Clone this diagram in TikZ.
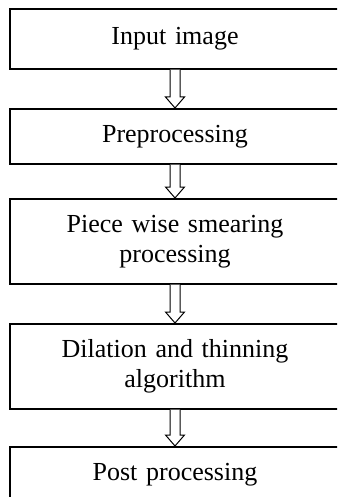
\documentclass[tikz,border=0pt]{standalone}
\usepackage{fontspec}
\setmainfont{Liberation Serif}
\usetikzlibrary{calc}
\tikzset{
  stepbox/.style={draw=black, line width=1.6pt, rectangle, anchor=north,
    minimum width=330pt, text width=300pt, align=center, inner sep=0pt,
    font=\fontsize{26}{30}\selectfont},
  blockarrow/.style={draw=black, line width=1pt, fill=white, line join=miter}
}
\newcommand{\hollowarrow}[2]{%
  \draw[blockarrow] ($(#1.south)+(-5,0)$) -- ($(#2.north)+(-5,11)$) -- ($(#2.north)+(-9.5,11)$) -- (#2.north) -- ($(#2.north)+(9.5,11)$) -- ($(#2.north)+(5,11)$) -- ($(#1.south)+(5,0)$);}
\begin{document}
\begin{tikzpicture}[x=1pt,y=1pt]
\useasboundingbox (0,0) rectangle (337,-497);
\clip (0,0) rectangle (337,-497);
\fill[white] (0,0) rectangle (337,-497);
\node[stepbox, minimum height=60pt] (a) at (175,-8) {Input image};
\node[stepbox, minimum height=55pt] (b) at (175,-108) {Preprocessing};
\node[stepbox, minimum height=85pt] (c) at (175,-198) {Piece wise smearing\\processing};
\node[stepbox, minimum height=85pt] (d) at (175,-323) {Dilation and thinning\\algorithm};
\node[stepbox, minimum height=56pt] (e) at (175,-446) {Post processing};
\hollowarrow{a}{b}
\hollowarrow{b}{c}
\hollowarrow{c}{d}
\hollowarrow{d}{e}
\end{tikzpicture}
\end{document}
